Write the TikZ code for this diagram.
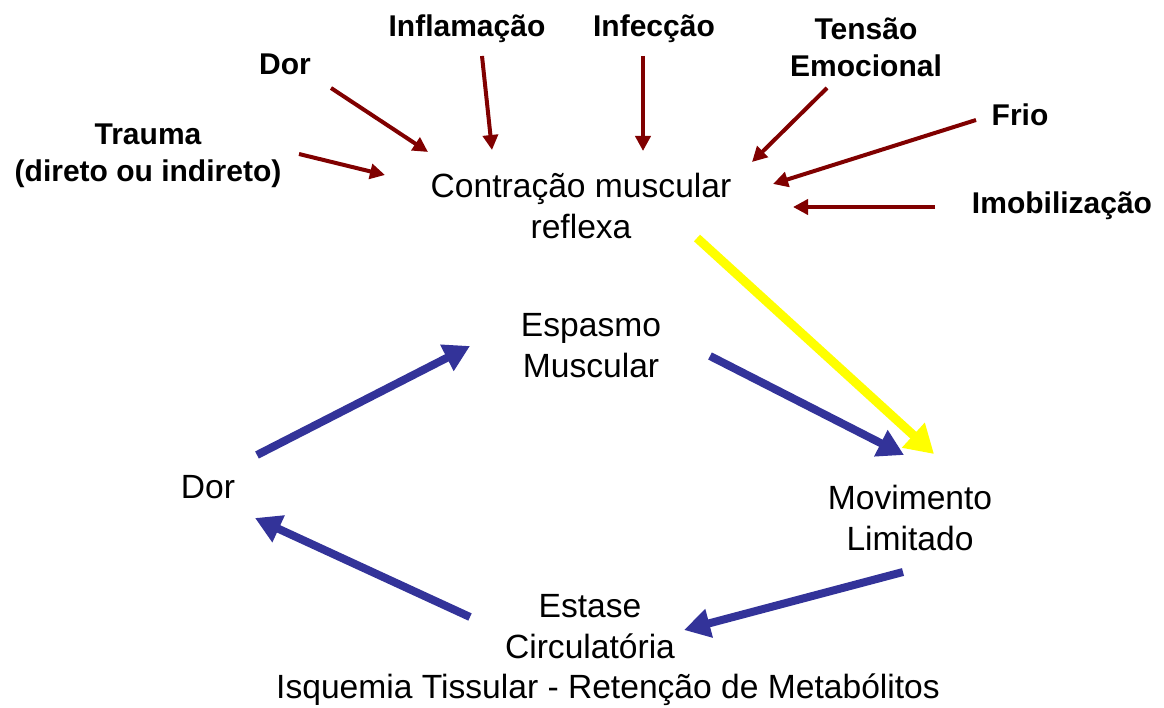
\documentclass[tikz,border=0pt]{standalone}
\usepackage{fontspec}
\setmainfont{Liberation Sans}
\usetikzlibrary{arrows.meta}
\definecolor{maroonc}{HTML}{800000}
\definecolor{bluec}{HTML}{333399}
\definecolor{yellowc}{HTML}{FFFF00}
\begin{document}
\begin{tikzpicture}[x=1pt,y=-1pt,
  lbl/.style={inner sep=0pt,align=center,font=\fontsize{33.6}{41}\selectfont},
  cause/.style={inner sep=0pt,align=center,font=\fontsize{30}{37}\selectfont\bfseries},
  redarr/.style={draw=maroonc,line width=4pt,-{Triangle[length=15pt,width=15pt]}},
  bluearr/.style={draw=bluec,line width=8pt,-{Triangle[length=26pt,width=28pt]}},
  yelarr/.style={draw=yellowc,line width=9pt,-{Triangle[length=28pt,width=32pt]}}]
\useasboundingbox (0,0) rectangle (1164,708);
% main nodes
\node[lbl] (contr) at (581,206) {Contração muscular\\reflexa};
\node[lbl] (esp) at (591,346) {Espasmo\\Muscular};
\node[lbl] (dor) at (208,487) {Dor};
\node[lbl] (mov) at (910,518) {Movimento\\Limitado};
\node[lbl] (est) at (590,627) {Estase\\Circulatória};
\node[lbl] (isq) at (608,690) {Isquemia Tissular - Retenção de Metabólitos};
% causes
\node[cause] (cdor) at (285,64) {Dor};
\node[cause] (infl) at (467,29) {Inflamação};
\node[cause] (infe) at (654,29) {Infecção};
\node[cause] (tens) at (866,47) {Tensão\\Emocional};
\node[cause] (frio) at (1020,115) {Frio};
\node[cause] (trau) at (148,156) {Trauma\\(direto ou indireto)};
\node[cause] (imob) at (1062,206) {Imobilização};
% connector endpoints
\coordinate (d1) at (331,88);   \coordinate (d2) at (428,152);
\coordinate (i1) at (482,56);   \coordinate (i2) at (492,150);
\coordinate (f1) at (643,56);   \coordinate (f2) at (643,151);
\coordinate (t1) at (827,88);   \coordinate (t2) at (752,162);
\coordinate (r1) at (976,120);  \coordinate (r2) at (773,184);
\coordinate (m1) at (935,207);  \coordinate (m2) at (793,207);
\coordinate (a1) at (299,154);  \coordinate (a2) at (385,175);
\coordinate (y1) at (697,238);  \coordinate (y2) at (934,454);
\coordinate (b1) at (257,455);  \coordinate (b2) at (470,346);
\coordinate (c1) at (710,356);  \coordinate (c2) at (904,455);
\coordinate (e1) at (903,572);  \coordinate (e2) at (684,630);
\coordinate (g1) at (470,617);  \coordinate (g2) at (255,518);
% cause arrows
\draw[redarr] (d1) -- (d2);
\draw[redarr] (i1) -- (i2);
\draw[redarr] (f1) -- (f2);
\draw[redarr] (t1) -- (t2);
\draw[redarr] (r1) -- (r2);
\draw[redarr] (m1) -- (m2);
\draw[redarr] (a1) -- (a2);
% yellow
\draw[yelarr] (y1) -- (y2);
% cycle
\draw[bluearr] (b1) -- (b2);
\draw[bluearr] (c1) -- (c2);
\draw[bluearr] (e1) -- (e2);
\draw[bluearr] (g1) -- (g2);
\end{tikzpicture}
\end{document}
